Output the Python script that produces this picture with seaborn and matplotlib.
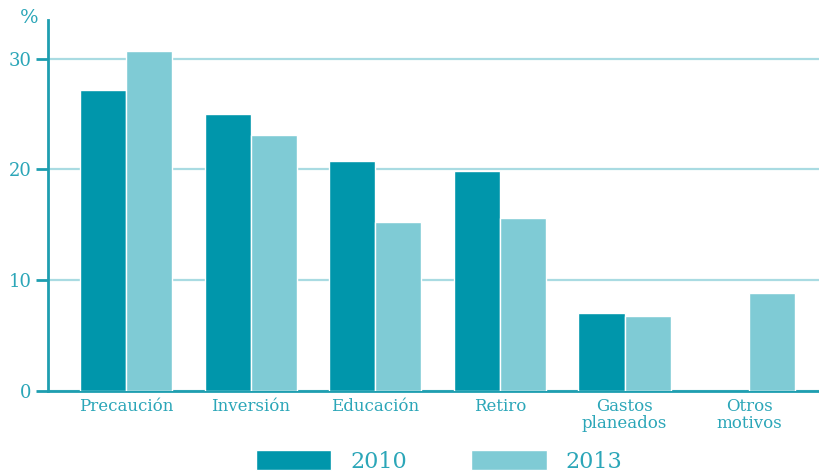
import numpy as np
import pandas as pd
import matplotlib
matplotlib.use("Agg")
import matplotlib.pyplot as plt
import seaborn as sns

categorias = ["Precaución", "Inversión", "Educación", "Retiro",
              "Gastos\nplaneados", "Otros\nmotivos"]
valores_2010 = [27.2, 25.0, 20.8, 19.9, 7.0, np.nan]
valores_2013 = [30.7, 23.1, 15.3, 15.6, 6.8, 8.85]
anios = ["2010", "2013"]
yticks = [0, 10, 20, 30]

color_oscuro = "#0096AB"
color_claro = "#7FCBD5"
color_texto = "#2BA6B8"
color_eje = "#1E9EB0"
color_rejilla = "#A9DBE2"

df = pd.DataFrame({
    "motivo": categorias * 2,
    "valor": valores_2010 + valores_2013,
    "anio": [anios[0]] * len(categorias) + [anios[1]] * len(categorias),
})

sns.set_style("white")
plt.rcParams["font.family"] = ["DejaVu Serif"]

fig = plt.figure(figsize=(8.19, 4.75), dpi=100)
ax = fig.add_axes([0.0586, 0.1768, 0.9414, 0.7812])

sns.barplot(data=df, x="motivo", y="valor", hue="anio",
            palette=[color_oscuro, color_claro], width=0.74,
            saturation=1, ax=ax, legend=True, zorder=3)

ax.set_xlim(-0.626, 5.56)
ax.set_ylim(0, 33.5)
ax.set_yticks(yticks)
ax.set_yticklabels([str(t) for t in yticks])
ax.yaxis.grid(True, color=color_rejilla, linewidth=1.6, zorder=0)
ax.set_axisbelow(True)
ax.set_xlabel("")
ax.set_ylabel("")

for lado in ["top", "right"]:
    ax.spines[lado].set_visible(False)
for lado in ["left", "bottom"]:
    ax.spines[lado].set_color(color_eje)
    ax.spines[lado].set_linewidth(2)

ax.tick_params(axis="y", which="major", length=9, width=2, color=color_eje,
               labelcolor=color_texto, labelsize=13, pad=3, left=True)
ax.tick_params(axis="x", length=0, labelcolor=color_texto, labelsize=12,
               pad=5)
for lbl in ax.get_xticklabels():
    lbl.set_linespacing(1.0)

ax.text(-0.012, 1.005, "%", transform=ax.transAxes, ha="right", va="center",
        color=color_texto, fontsize=14)

leg = ax.get_legend()
handles = leg.legend_handles
leg.remove()
fig.legend(handles, anios, loc="center", bbox_to_anchor=(0.536, 0.028),
           ncol=2, frameon=False, fontsize=16, handlelength=3.4,
           handleheight=1.0, columnspacing=2.9, handletextpad=0.85,
           labelcolor=color_texto, borderpad=0.1)

fig.savefig("out.png", dpi=100)
